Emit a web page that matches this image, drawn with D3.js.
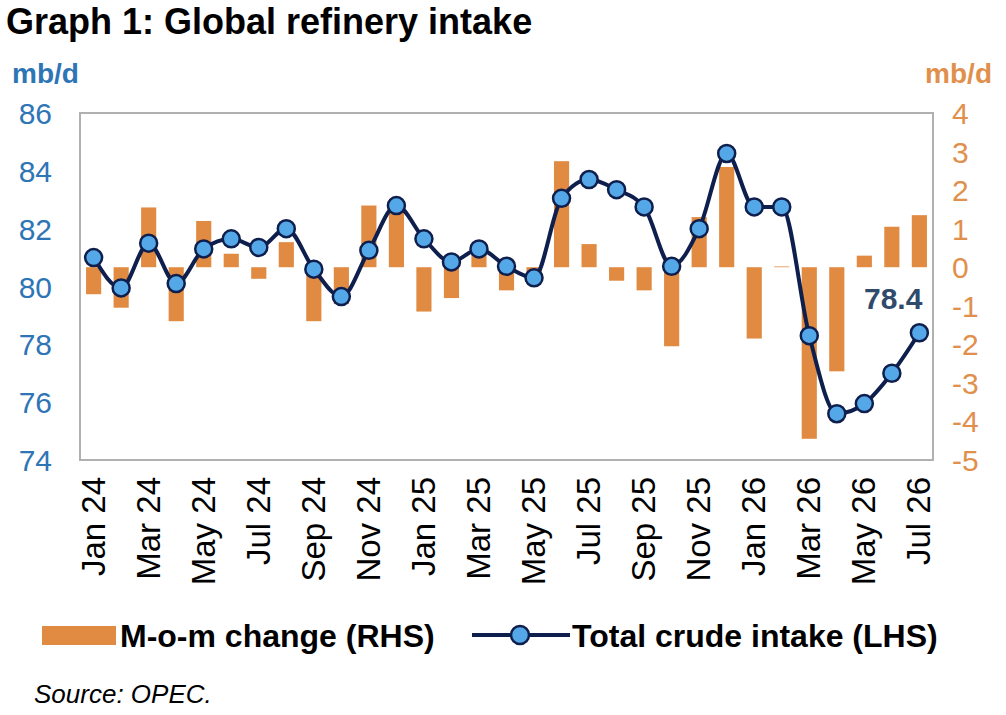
<!DOCTYPE html>
<html>
<meta charset="utf-8">
<script src="https://d3js.org/d3.v7.min.js"></script>
<style>
  body { margin: 0; background: #fff; font-family: Arial, "Liberation Sans", sans-serif; }
</style>
<body>
<script>
// months shown on the axis (every month has a bar/point, labels every other month)
var months = ["Jan 24","Feb 24","Mar 24","Apr 24","May 24","Jun 24","Jul 24","Aug 24","Sep 24","Oct 24","Nov 24","Dec 24",
              "Jan 25","Feb 25","Mar 25","Apr 25","May 25","Jun 25","Jul 25","Aug 25","Sep 25","Oct 25","Nov 25","Dec 25",
              "Jan 26","Feb 26","Mar 26","Apr 26","May 26","Jun 26","Jul 26"];
// total crude intake, mb/d (LHS)
var intake = [81.0, 79.95, 81.5, 80.1, 81.3, 81.65, 81.35, 82.0, 80.6, 79.65, 81.25, 82.8,
              81.65, 80.85, 81.3, 80.7, 80.3, 83.05, 83.7, 83.35, 82.75, 80.7, 82.0, 84.6,
              82.75, 82.75, 78.3, 75.6, 75.95, 77.0, 78.4];
// m-o-m change, mb/d (RHS)
var mom = [-0.7, -1.05, 1.55, -1.4, 1.2, 0.35, -0.3, 0.65, -1.4, -0.95, 1.6, 1.55,
           -1.15, -0.8, 0.35, -0.6, -0.35, 2.75, 0.6, -0.35, -0.6, -2.05, 1.3, 2.6,
           -1.85, 0.02, -4.45, -2.7, 0.3, 1.05, 1.35];
var leftTicks = [74, 76, 78, 80, 82, 84, 86];
var rightTicks = [-5, -4, -3, -2, -1, 0, 1, 2, 3, 4];

var W = 1006, H = 715;
var box = {left: 80, right: 933, top: 113, bottom: 460};

var svg = d3.select("body").append("svg").attr("width", W).attr("height", H);

var x = d3.scaleBand().domain(months).range([box.left, box.right]).paddingInner(0.45).paddingOuter(0.22);
var yL = d3.scaleLinear().domain([74, 86]).range([box.bottom, box.top]);
var yR = d3.scaleLinear().domain([-5, 4]).range([box.bottom, box.top]);
var cx = function(d) { return x(d) + x.bandwidth() / 2; };

// title and units
svg.append("text").attr("x", 6).attr("y", 34).style("font-size", "36px").style("font-weight", "bold")
   .text("Graph 1: Global refinery intake");
svg.append("text").attr("x", 12).attr("y", 83).style("font-size", "28px").style("font-weight", "bold")
   .style("fill", "#2e75b6").text("mb/d");
svg.append("text").attr("x", 992).attr("y", 83).attr("text-anchor", "end").style("font-size", "28px")
   .style("font-weight", "bold").style("fill", "#e0904c").text("mb/d");

// plot box
svg.append("rect").attr("x", box.left).attr("y", box.top)
   .attr("width", box.right - box.left).attr("height", box.bottom - box.top)
   .attr("fill", "#fff").attr("stroke", "#b0b0b0").attr("stroke-width", 2);

// left ticks
svg.selectAll(".lt").data(leftTicks).enter().append("text")
   .attr("x", 52).attr("y", function(d) { return yL(d) + 11; }).attr("text-anchor", "end")
   .style("font-size", "30px").style("fill", "#2e75b6").text(function(d) { return d; });
// right ticks
svg.selectAll(".rt").data(rightTicks).enter().append("text")
   .attr("x", 952).attr("y", function(d) { return yR(d) + 11; })
   .style("font-size", "30px").style("fill", "#e0904c").text(function(d) { return d; });

// bars
svg.selectAll(".bar").data(mom).enter().append("rect")
   .attr("x", function(d, i) { return x(months[i]); })
   .attr("width", x.bandwidth())
   .attr("y", function(d) { return yR(Math.max(0, d)); })
   .attr("height", function(d) { return Math.abs(yR(d) - yR(0)); })
   .attr("fill", "#e08a42");

// line
var line = d3.line().curve(d3.curveMonotoneX)
   .x(function(d, i) { return cx(months[i]); }).y(function(d) { return yL(d); });
svg.append("path").datum(intake).attr("d", line).attr("fill", "none")
   .attr("stroke", "#0f1f4d").attr("stroke-width", 4);
svg.selectAll(".pt").data(intake).enter().append("circle")
   .attr("cx", function(d, i) { return cx(months[i]); }).attr("cy", function(d) { return yL(d); })
   .attr("r", 8.5).attr("fill", "#55a8e8").attr("stroke", "#0f1f4d").attr("stroke-width", 2.5);

// last value label
svg.append("text").attr("x", cx(months[months.length - 1]) + 3).attr("y", 309).attr("text-anchor", "end")
   .style("font-size", "30px").style("font-weight", "bold").style("fill", "#2f4a6a").text("78.4");

// x labels every second month
months.forEach(function(m, i) {
  if (i % 2) return;
  svg.append("text").attr("transform", "translate(" + (cx(m) + 11) + ",477) rotate(-90)")
     .attr("text-anchor", "end").style("font-size", "33px").text(m);
});

// legend
svg.append("rect").attr("x", 42).attr("y", 626).attr("width", 74).attr("height", 19).attr("fill", "#e08a42");
svg.append("text").attr("x", 120).attr("y", 647).style("font-size", "32px").style("font-weight", "bold")
   .text("M-o-m change (RHS)");
svg.append("line").attr("x1", 472).attr("x2", 570).attr("y1", 635).attr("y2", 635)
   .attr("stroke", "#0f1f4d").attr("stroke-width", 4);
svg.append("circle").attr("cx", 520).attr("cy", 635).attr("r", 9).attr("fill", "#55a8e8")
   .attr("stroke", "#0f1f4d").attr("stroke-width", 2.5);
svg.append("text").attr("x", 572).attr("y", 647).style("font-size", "32px").style("font-weight", "bold")
   .text("Total crude intake (LHS)");

svg.append("text").attr("x", 34).attr("y", 703).style("font-size", "26px").style("font-style", "italic")
   .text("Source: OPEC.");
</script>
</body>
</html>
